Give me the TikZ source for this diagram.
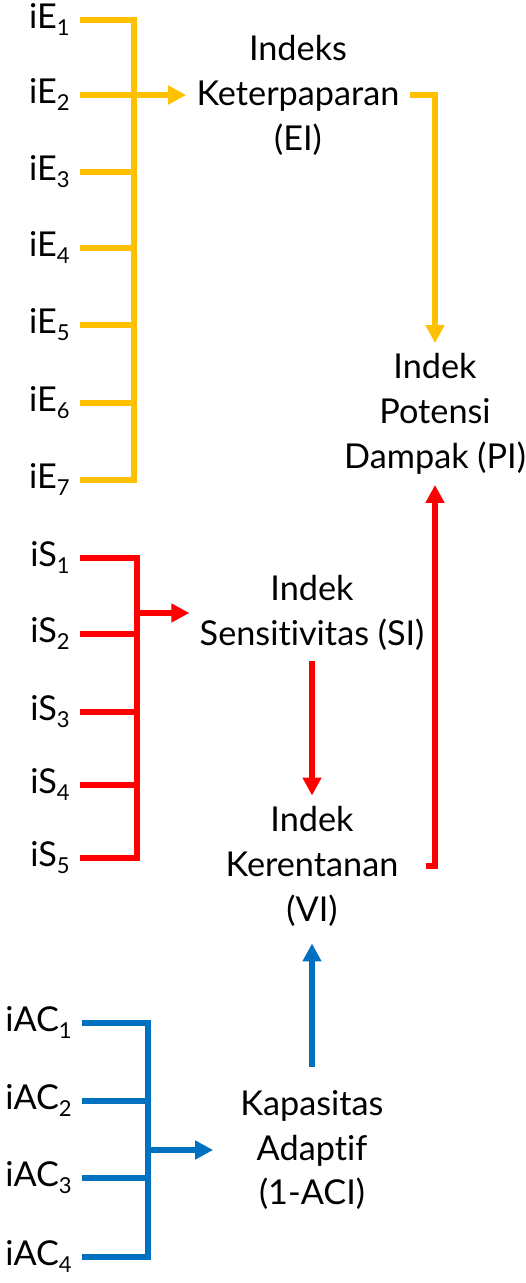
\documentclass[tikz,border=0pt]{standalone}
\usepackage{fontspec}
\setmainfont{Lato}[Ligatures={NoCommon, NoRare, NoContextual}]
\usepackage{tikz}
\usetikzlibrary{arrows.meta, positioning}
\definecolor{expo}{HTML}{FFC000}
\definecolor{sens}{HTML}{FF0000}
\definecolor{adap}{HTML}{0070C0}
\newcommand{\lowr}[1]{\raisebox{-0.105em}{#1}}
\newcommand{\idx}[2]{#1\raisebox{-0.23em}{\fontsize{12.5pt}{12.5pt}\selectfont #2}}

\begin{document}
\begin{tikzpicture}[
    x=0.02cm, y=-0.02cm,
    txt/.style={align=center, inner sep=0.2cm, font=\fontsize{19.5pt}{25.6pt}\selectfont},
    inlbl/.style={anchor=mid east, inner xsep=0.2cm, inner ysep=0.08cm, font=\fontsize{19.5pt}{25.6pt}\selectfont},
    ln/.style={line width=0.11cm},
    ar/.style={ln, -{Triangle[length=0.36cm, width=0.36cm]}}
]
\useasboundingbox (0,0) rectangle (526,1283);
% bus lines
\coordinate (ebus) at (134,0);
\coordinate (sbus) at (137,0);
\coordinate (abus) at (148,0);
% index nodes
\node[txt] (ei) at (298,95) {Indeks\\Keterpaparan\\(EI)};
\node[txt] (pi) at (435,414) {Indek\\Potensi\\Dampak (PI)};
\node[txt] (si) at (312,613) {Indek\\Sensitivitas (SI)};
\node[txt] (vi) at (312,866) {Indek\\Kerentanan\\(VI)};
\node[txt] (ka) at (312,1150) {Kapasitas\\Adaptif\\(1-ACI)};
% exposure indicators
\foreach \i/\y in {1/20, 2/95, 3/172, 4/248, 5/325, 6/403, 7/480}
  \node[inlbl] (e\i) at (80,\y) {\lowr{\idx{iE}{\i}}};
\draw[ln, expo] (e1.mid east) -| (e7.mid east -| ebus) -- (e7.mid east);
\foreach \i in {2,...,6}
  \draw[ln, expo] (e\i.mid east) -- (e\i.mid east -| ebus);
\draw[ar, expo] (ei.west -| ebus) -- (ei.west);
\draw[ar, expo] (ei.east) -| (pi.north);
% sensitivity indicators
\foreach \i/\y in {1/558, 2/634, 3/712, 4/785, 5/858}
  \node[inlbl] (s\i) at (80,\y) {\lowr{\idx{iS}{\i}}};
\draw[ln, sens] (s1.mid east) -| (s5.mid east -| sbus) -- (s5.mid east);
\foreach \i in {2,3,4}
  \draw[ln, sens] (s\i.mid east) -- (s\i.mid east -| sbus);
\draw[ar, sens] (si.west -| sbus) -- (si.west);
\draw[ar, sens] (si.south) -- (vi.north);
\draw[ar, sens, shorten <=0.34cm] (vi.east) -| (pi.south);
% adaptive capacity indicators
\foreach \i/\y in {1/1023, 2/1101, 3/1178, 4/1257}
  \node[inlbl] (a\i) at (82,\y) {\lowr{\idx{iAC}{\i}}};
\draw[ln, adap] (a1.mid east) -| (a4.mid east -| abus) -- (a4.mid east);
\foreach \i in {2,3}
  \draw[ln, adap] (a\i.mid east) -- (a\i.mid east -| abus);
\draw[ar, adap, shorten >=0.34cm] (ka.west -| abus) -- (ka.west);
\draw[ar, adap, shorten <=0.26cm, shorten >=0.14cm] (ka.north) -- (vi.south);
\end{tikzpicture}
\end{document}
